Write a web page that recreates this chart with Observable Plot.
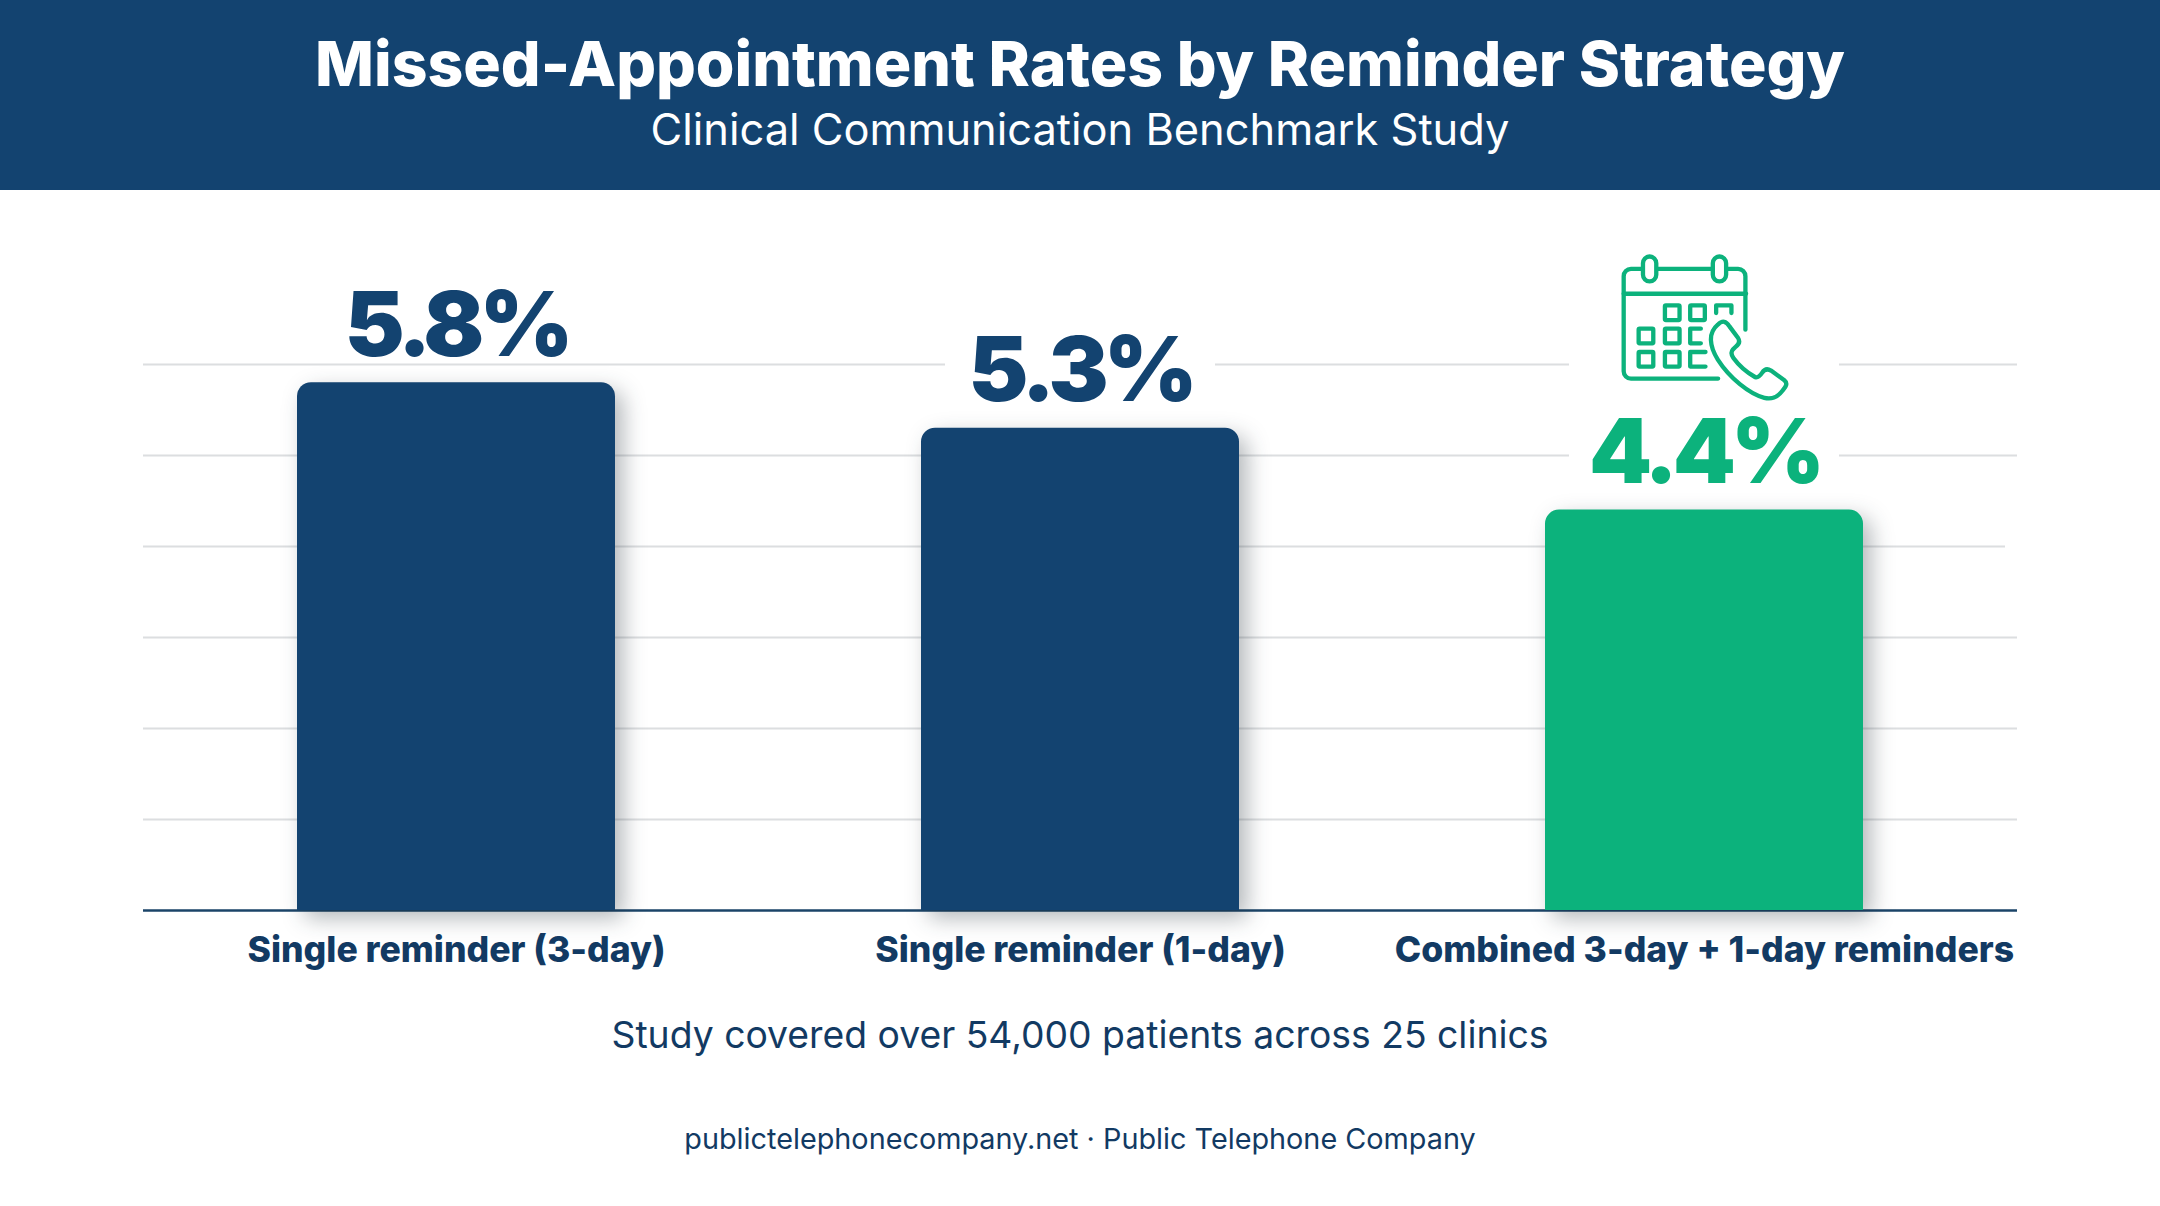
<!DOCTYPE html>
<html><head><meta charset="utf-8">
<script src="https://cdn.jsdelivr.net/npm/d3@7"></script>
<script src="https://cdn.jsdelivr.net/npm/@observablehq/plot@0.6"></script>
<style>
html,body{margin:0;padding:0;background:#fff;width:2160px;height:1206px;overflow:hidden;font-family:Inter,sans-serif}
#head{height:190px;background:#134370;color:#fff;text-align:center;position:relative}
#head h1{margin:0;position:absolute;left:0;right:0;top:27px;font-size:62.5px;line-height:72px;font-weight:800;white-space:nowrap}
#head p{margin:0;position:absolute;left:0;right:0;top:105px;font-size:43.4px;line-height:48px;font-weight:400;white-space:nowrap}
#chart svg{display:block}
.note{position:absolute;left:0;right:0;text-align:center;color:#123a63;white-space:nowrap}
.val text{letter-spacing:-5px}
</style></head><body>
<div id="head"><h1 id="t"></h1><p id="s"></p></div>
<div id="chart"></div>
<div class="note" id="n1" style="top:1013px;font-size:37.3px;line-height:44px"></div>
<div class="note" id="n2" style="top:1122px;font-size:28.8px;line-height:34px"></div>
<script>
const titleText = "Missed-Appointment Rates by Reminder Strategy";
const subtitleText = "Clinical Communication Benchmark Study";
const noteText = "Study covered over 54,000 patients across 25 clinics";
const footerText = "publictelephonecompany.net · Public Telephone Company";
const categories = ["Single reminder (3-day)", "Single reminder (1-day)", "Combined 3-day + 1-day reminders"];
const values = [5.8, 5.3, 4.4];
const valueLabels = ["5.8%", "5.3%", "4.4%"];
const barColors = ["#134370", "#134370", "#0cb27c"];
const gridTicks = [1, 2, 3, 5, 6];
const shortGridTicks = [4];
const gapCategories = [categories[1], categories[2]];
const gapLow = [5.5, 4.6];
const gapHigh = [6.1, 6.1];

document.getElementById("t").textContent = titleText;
document.getElementById("s").textContent = subtitleText;
document.getElementById("n1").textContent = noteText;
document.getElementById("n2").textContent = footerText;

const iconSvg = `<svg xmlns="http://www.w3.org/2000/svg" viewBox="360 65 510 445" width="170" height="148"><g fill="none" stroke="#0cb27c" stroke-width="13" stroke-linecap="round" stroke-linejoin="round"><path d="M738 295V134a22 22 0 0 0-22-22H684M636 112H474M428 112H394a22 22 0 0 0-22 22V420a22 22 0 0 0 22 22H656"/><rect x="430" y="75" width="40" height="75" rx="20"/><rect x="640" y="75" width="40" height="75" rx="20"/><path d="M372 187H740"/><rect x="496" y="222" width="44" height="44" rx="3"/><rect x="572" y="222" width="44" height="44" rx="3"/><path d="M650 245V222H696V245"/><rect x="417" y="292" width="44" height="44" rx="3"/><rect x="496" y="292" width="44" height="44" rx="3"/><path d="M604 292H572V336H604"/><rect x="417" y="362" width="44" height="44" rx="3"/><rect x="496" y="362" width="44" height="44" rx="3"/><path d="M618 362H572V406H618"/><path d="M655 280C670 265 680 270 690 285L716 320C722 330 718 340 708 347L700 355C694 362 695 370 702 380C720 405 745 425 768 438C776 440 782 434 788 425C795 414 805 412 815 418L855 447C865 455 862 465 850 478C835 498 815 505 795 500C750 488 690 440 655 385C630 345 625 305 655 280Z"/></g></svg>`;
const iconSrc = "data:image/svg+xml;utf8," + encodeURIComponent(iconSvg);

const rows = categories.map((c, i) => ({c, v: values[i], label: valueLabels[i], color: barColors[i]}));
const gaps = gapCategories.map((c, i) => ({c, lo: gapLow[i], hi: gapHigh[i]}));

const chart = Plot.plot({
  width: 2160, height: 790,
  marginTop: 174, marginBottom: 70, marginLeft: 143, marginRight: 143,
  style: {background: "transparent", overflow: "visible"},
  x: {domain: categories, paddingInner: 0.491, paddingOuter: 0.2455, align: 0.5, label: null},
  y: {domain: [0, 6], label: null, axis: null},
  marks: [
    Plot.ruleY(gridTicks, {stroke: "#dcdee0", strokeWidth: 2}),
    Plot.ruleY(shortGridTicks, {stroke: "#dcdee0", strokeWidth: 2, insetRight: 12}),
    Plot.barY(gaps, {x: "c", y1: "lo", y2: "hi", fill: "#fff", insetLeft: 24, insetRight: 24}),
    Plot.ruleY([0], {stroke: "#1b4468", strokeWidth: 2.5}),
    Plot.barY(rows, {x: "c", y: "v", fill: "color", ry1: 14, imageFilter: "drop-shadow(8px 8px 11px rgba(20,30,40,.32))"}),
    Plot.text(rows, {x: "c", y: "v", text: "label", fill: "color", fontSize: 90, fontWeight: 900, fontFamily: "Inter", lineAnchor: "bottom", dy: -27, className: "val"}),
    Plot.image([categories[2]], {x: d => d, y: () => 6.41, src: () => iconSrc, width: 170, height: 148}),
    Plot.axisX({tickSize: 0, tickPadding: 26, fontSize: 35.6, fontWeight: 800, fontFamily: "Inter", color: "#123a63", label: null})
  ]
});
document.getElementById("chart").appendChild(chart);
</script></body></html>
